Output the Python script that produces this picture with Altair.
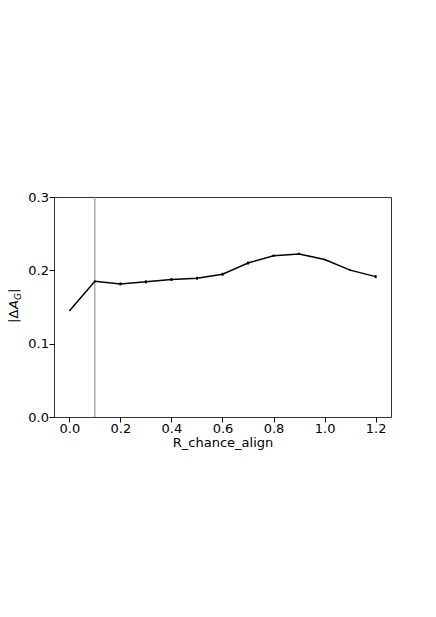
import altair as alt
import pandas as pd

x_vals = [0.0, 0.1, 0.2, 0.3, 0.4, 0.5, 0.6, 0.7, 0.8, 0.9, 1.0, 1.1, 1.2]
y_vals = [0.1446, 0.1850, 0.1815, 0.1843, 0.1874, 0.1892, 0.1946, 0.2100, 0.2200, 0.2224, 0.2147, 0.2003, 0.1914]
y_err = [0.0, 0.001, 0.002, 0.002, 0.002, 0.002, 0.002, 0.002, 0.0015, 0.0015, 0.001, 0.001, 0.002]
vline_x = [0.1]
x_ticks = [0.0, 0.2, 0.4, 0.6, 0.8, 1.0, 1.2]
y_ticks = [0.0, 0.1, 0.2, 0.3]

df = pd.DataFrame({"x": x_vals, "y": y_vals, "err": y_err})
df["lo"] = df["y"] - df["err"]
df["hi"] = df["y"] + df["err"]

FONT = "DejaVu Sans"
W, H = 337, 220

xs = alt.Scale(domain=[-0.06, 1.26], nice=False, zero=False)
ys = alt.Scale(domain=[0, 0.3], nice=False)

x_axis = alt.Axis(values=x_ticks, format=".1f", title="R_chance_align",
                  titlePadding=0.5, labelPadding=0.5)
y_axis = alt.Axis(values=y_ticks, format=".1f", title=None, labelPadding=0.5)

base = alt.Chart(df)

line = base.mark_line(color="black", strokeWidth=1.5).encode(
    x=alt.X("x:Q", scale=xs, axis=x_axis),
    y=alt.Y("y:Q", scale=ys, axis=y_axis),
)

errs = base.mark_rule(color="black", strokeWidth=2).encode(
    x="x:Q", y="lo:Q", y2="hi:Q"
)

vline = alt.Chart(pd.DataFrame({"v": vline_x})).mark_rule(
    color="#808080", strokeWidth=1
).encode(x=alt.X("v:Q", scale=xs))

def piece(txt, ypos, xpos, size=13, style="normal"):
    return alt.Chart(pd.DataFrame({"t": [txt]})).mark_text(
        angle=270, align="left", baseline="alphabetic", font=FONT,
        fontSize=size, fontStyle=style, color="black"
    ).encode(x=alt.value(xpos), y=alt.value(ypos), text="t:N")

title_parts = (
    piece("|Δ", 126, -36)
    + piece("A", 112, -36, style="italic")
    + piece("G", 103, -33.5, size=9, style="italic")
    + piece("|", 96, -36)
)

chart = alt.layer(vline, line, errs, title_parts).properties(
    width=W, height=H,
    autosize=alt.AutoSizeParams(type="none"),
    padding={"left": 46, "top": 189, "right": 20, "bottom": 60},
).configure_view(
    stroke="#333333", strokeWidth=1
).configure_axis(
    domain=False, grid=False, ticks=True, tickColor="black", tickSize=5,
    tickWidth=1, labelFont=FONT, labelFontSize=13, labelColor="black",
    titleFont=FONT, titleFontSize=13, titleFontWeight="normal", titleColor="black",
)

chart.save("out.html", embed_options={"renderer": "svg", "actions": False})
